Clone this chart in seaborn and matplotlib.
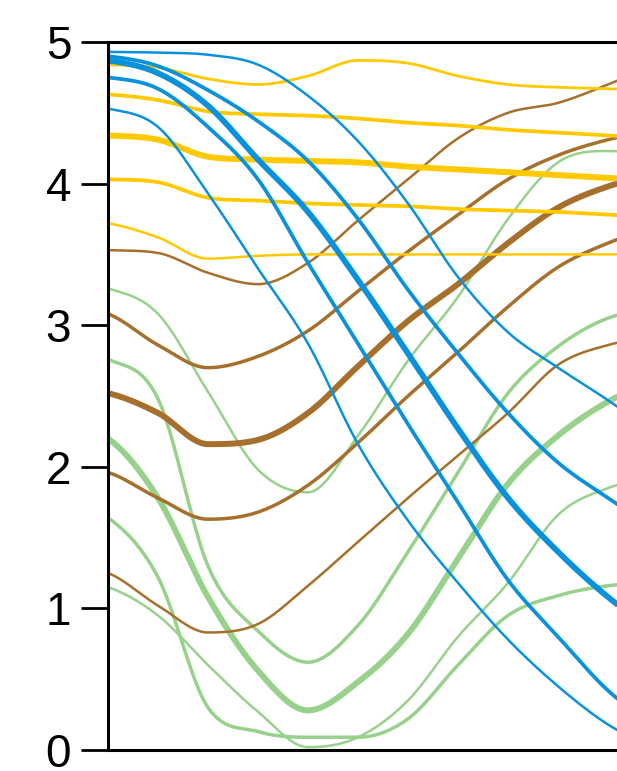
import numpy as np
import pandas as pd
import matplotlib
matplotlib.use("Agg")
import matplotlib.pyplot as plt
import seaborn as sns

# ---- data ----
x_stops = [0, 1, 2, 3, 4, 5, 6, 7, 8, 9, 10, 11]

blue_series = {
    "B1": [4.93, 4.925, 4.91, 4.84, 4.62, 4.30, 3.86, 3.34, 2.95, 2.70, 2.47, 2.22],
    "B2": [4.87, 4.78, 4.55, 4.17, 3.80, 3.32, 2.80, 2.27, 1.78, 1.40, 1.08, 0.82],
    "B3": [4.90, 4.83, 4.66, 4.44, 4.16, 3.75, 3.25, 2.80, 2.38, 2.03, 1.78, 1.55],
    "B4": [4.75, 4.67, 4.40, 4.03, 3.44, 2.87, 2.30, 1.75, 1.20, 0.80, 0.42, 0.15],
    "B5": [4.53, 4.40, 3.93, 3.40, 2.87, 2.16, 1.62, 1.18, 0.78, 0.45, 0.18, 0.00],
}
yellow_series = {
    "Y1": [4.84, 4.82, 4.74, 4.70, 4.76, 4.87, 4.85, 4.76, 4.70, 4.68, 4.67, 4.66],
    "Y2": [4.63, 4.59, 4.51, 4.49, 4.48, 4.46, 4.43, 4.41, 4.38, 4.36, 4.34, 4.32],
    "Y3": [4.34, 4.31, 4.19, 4.17, 4.16, 4.15, 4.12, 4.10, 4.08, 4.06, 4.04, 4.02],
    "Y4": [4.03, 4.01, 3.90, 3.88, 3.86, 3.85, 3.84, 3.82, 3.81, 3.80, 3.78, 3.77],
    "Y5": [3.72, 3.62, 3.47, 3.49, 3.50, 3.50, 3.50, 3.50, 3.50, 3.50, 3.50, 3.50],
}
brown_series = {
    "Br1": [3.53, 3.51, 3.37, 3.29, 3.44, 3.74, 4.03, 4.32, 4.50, 4.57, 4.70, 4.85],
    "Br2": [3.08, 2.86, 2.70, 2.78, 2.96, 3.24, 3.52, 3.78, 4.03, 4.20, 4.31, 4.38],
    "Br3": [2.52, 2.38, 2.16, 2.19, 2.38, 2.71, 3.03, 3.29, 3.58, 3.83, 3.98, 4.07],
    "Br4": [1.96, 1.78, 1.63, 1.68, 1.87, 2.17, 2.50, 2.81, 3.13, 3.41, 3.58, 3.70],
    "Br5": [1.25, 1.02, 0.83, 0.89, 1.16, 1.47, 1.78, 2.08, 2.38, 2.72, 2.86, 2.92],
}
green_series = {
    "G1": [3.26, 3.08, 2.53, 1.98, 1.82, 2.22, 2.75, 3.20, 3.75, 4.15, 4.23, 4.20],
    "G2": [2.76, 2.48, 1.30, 0.84, 0.62, 0.88, 1.40, 1.96, 2.52, 2.85, 3.05, 3.12],
    "G3": [2.20, 1.78, 1.08, 0.56, 0.28, 0.48, 0.82, 1.35, 1.88, 2.22, 2.46, 2.62],
    "G4": [1.64, 1.22, 0.30, 0.13, 0.09, 0.09, 0.22, 0.60, 0.95, 1.09, 1.16, 1.18],
    "G5": [1.15, 0.95, 0.60, 0.27, 0.02, 0.09, 0.35, 0.80, 1.18, 1.66, 1.85, 1.93],
}

y_ticks = [0, 1, 2, 3, 4, 5]

# ---- styles ----
group_colors = {"green": "#97d18b", "brown": "#a6702c", "yellow": "#ffc900", "blue": "#0a91dc"}
group_widths = {
    "green": [1.8, 2.5, 4.3, 2.5, 1.8],
    "brown": [1.8, 2.5, 4.3, 2.5, 1.8],
    "yellow": [2.0, 2.7, 4.3, 2.7, 1.8],
    "blue": [1.8, 4.2, 2.7, 2.7, 1.8],
}
groups = [("green", green_series), ("brown", brown_series),
          ("yellow", yellow_series), ("blue", blue_series)]


def smooth_curve(x, y, xs):
    """Cubic Hermite with Catmull-Rom tangents, clamped to avoid overshoot."""
    x = np.asarray(x, float)
    y = np.asarray(y, float)
    h = np.diff(x)
    d = np.diff(y) / h
    n = len(x)
    m = np.zeros(n)
    for k in range(1, n - 1):
        if d[k - 1] * d[k] > 0:
            c = (y[k + 1] - y[k - 1]) / (x[k + 1] - x[k - 1])
            lim = 3 * min(abs(d[k - 1]), abs(d[k]))
            m[k] = np.sign(c) * min(abs(c), lim)
    m[0] = d[0] * 0.6
    m[-1] = d[-1]
    idx = np.clip(np.searchsorted(x, xs) - 1, 0, n - 2)
    t = (xs - x[idx]) / h[idx]
    h00 = 2 * t**3 - 3 * t**2 + 1
    h10 = t**3 - 2 * t**2 + t
    h01 = -2 * t**3 + 3 * t**2
    h11 = t**3 - t**2
    return h00 * y[idx] + h10 * h[idx] * m[idx] + h01 * y[idx + 1] + h11 * h[idx] * m[idx + 1]


sns.set_style("white")
plt.rcParams['font.family'] = ['Liberation Sans', 'DejaVu Sans']

fig = plt.figure(figsize=(6.17, 7.71), dpi=100)
ax = fig.add_axes([108 / 617, 1 - 750 / 771, 1 - 108 / 617, (750 - 42) / 771])

xs_fine = np.linspace(x_stops[0], x_stops[-1], 800)
for gname, series in groups:
    for (name, vals), lw in zip(series.items(), group_widths[gname]):
        df = pd.DataFrame({"x": xs_fine, "y": smooth_curve(x_stops, vals, xs_fine)})
        sns.lineplot(data=df, x="x", y="y", ax=ax, color=group_colors[gname],
                     linewidth=lw, sort=False, estimator=None,
                     solid_capstyle="butt")

ax.set_xlim(0, 10.18)
ax.set_ylim(0, 5)
ax.set_yticks(y_ticks)
ax.set_yticklabels([str(t) for t in y_ticks])
ax.set_xticks([])
ax.set_xlabel("")
ax.set_ylabel("")
ax.tick_params(axis="y", left=True, length=19.5, width=2, labelsize=33,
               pad=7, direction="out", colors="black")
for side in ["left", "top", "bottom"]:
    ax.spines[side].set_visible(True)
    ax.spines[side].set_color("black")
    ax.spines[side].set_linewidth(2.2)
ax.spines["right"].set_visible(False)

fig.savefig("out.png", dpi=100)
